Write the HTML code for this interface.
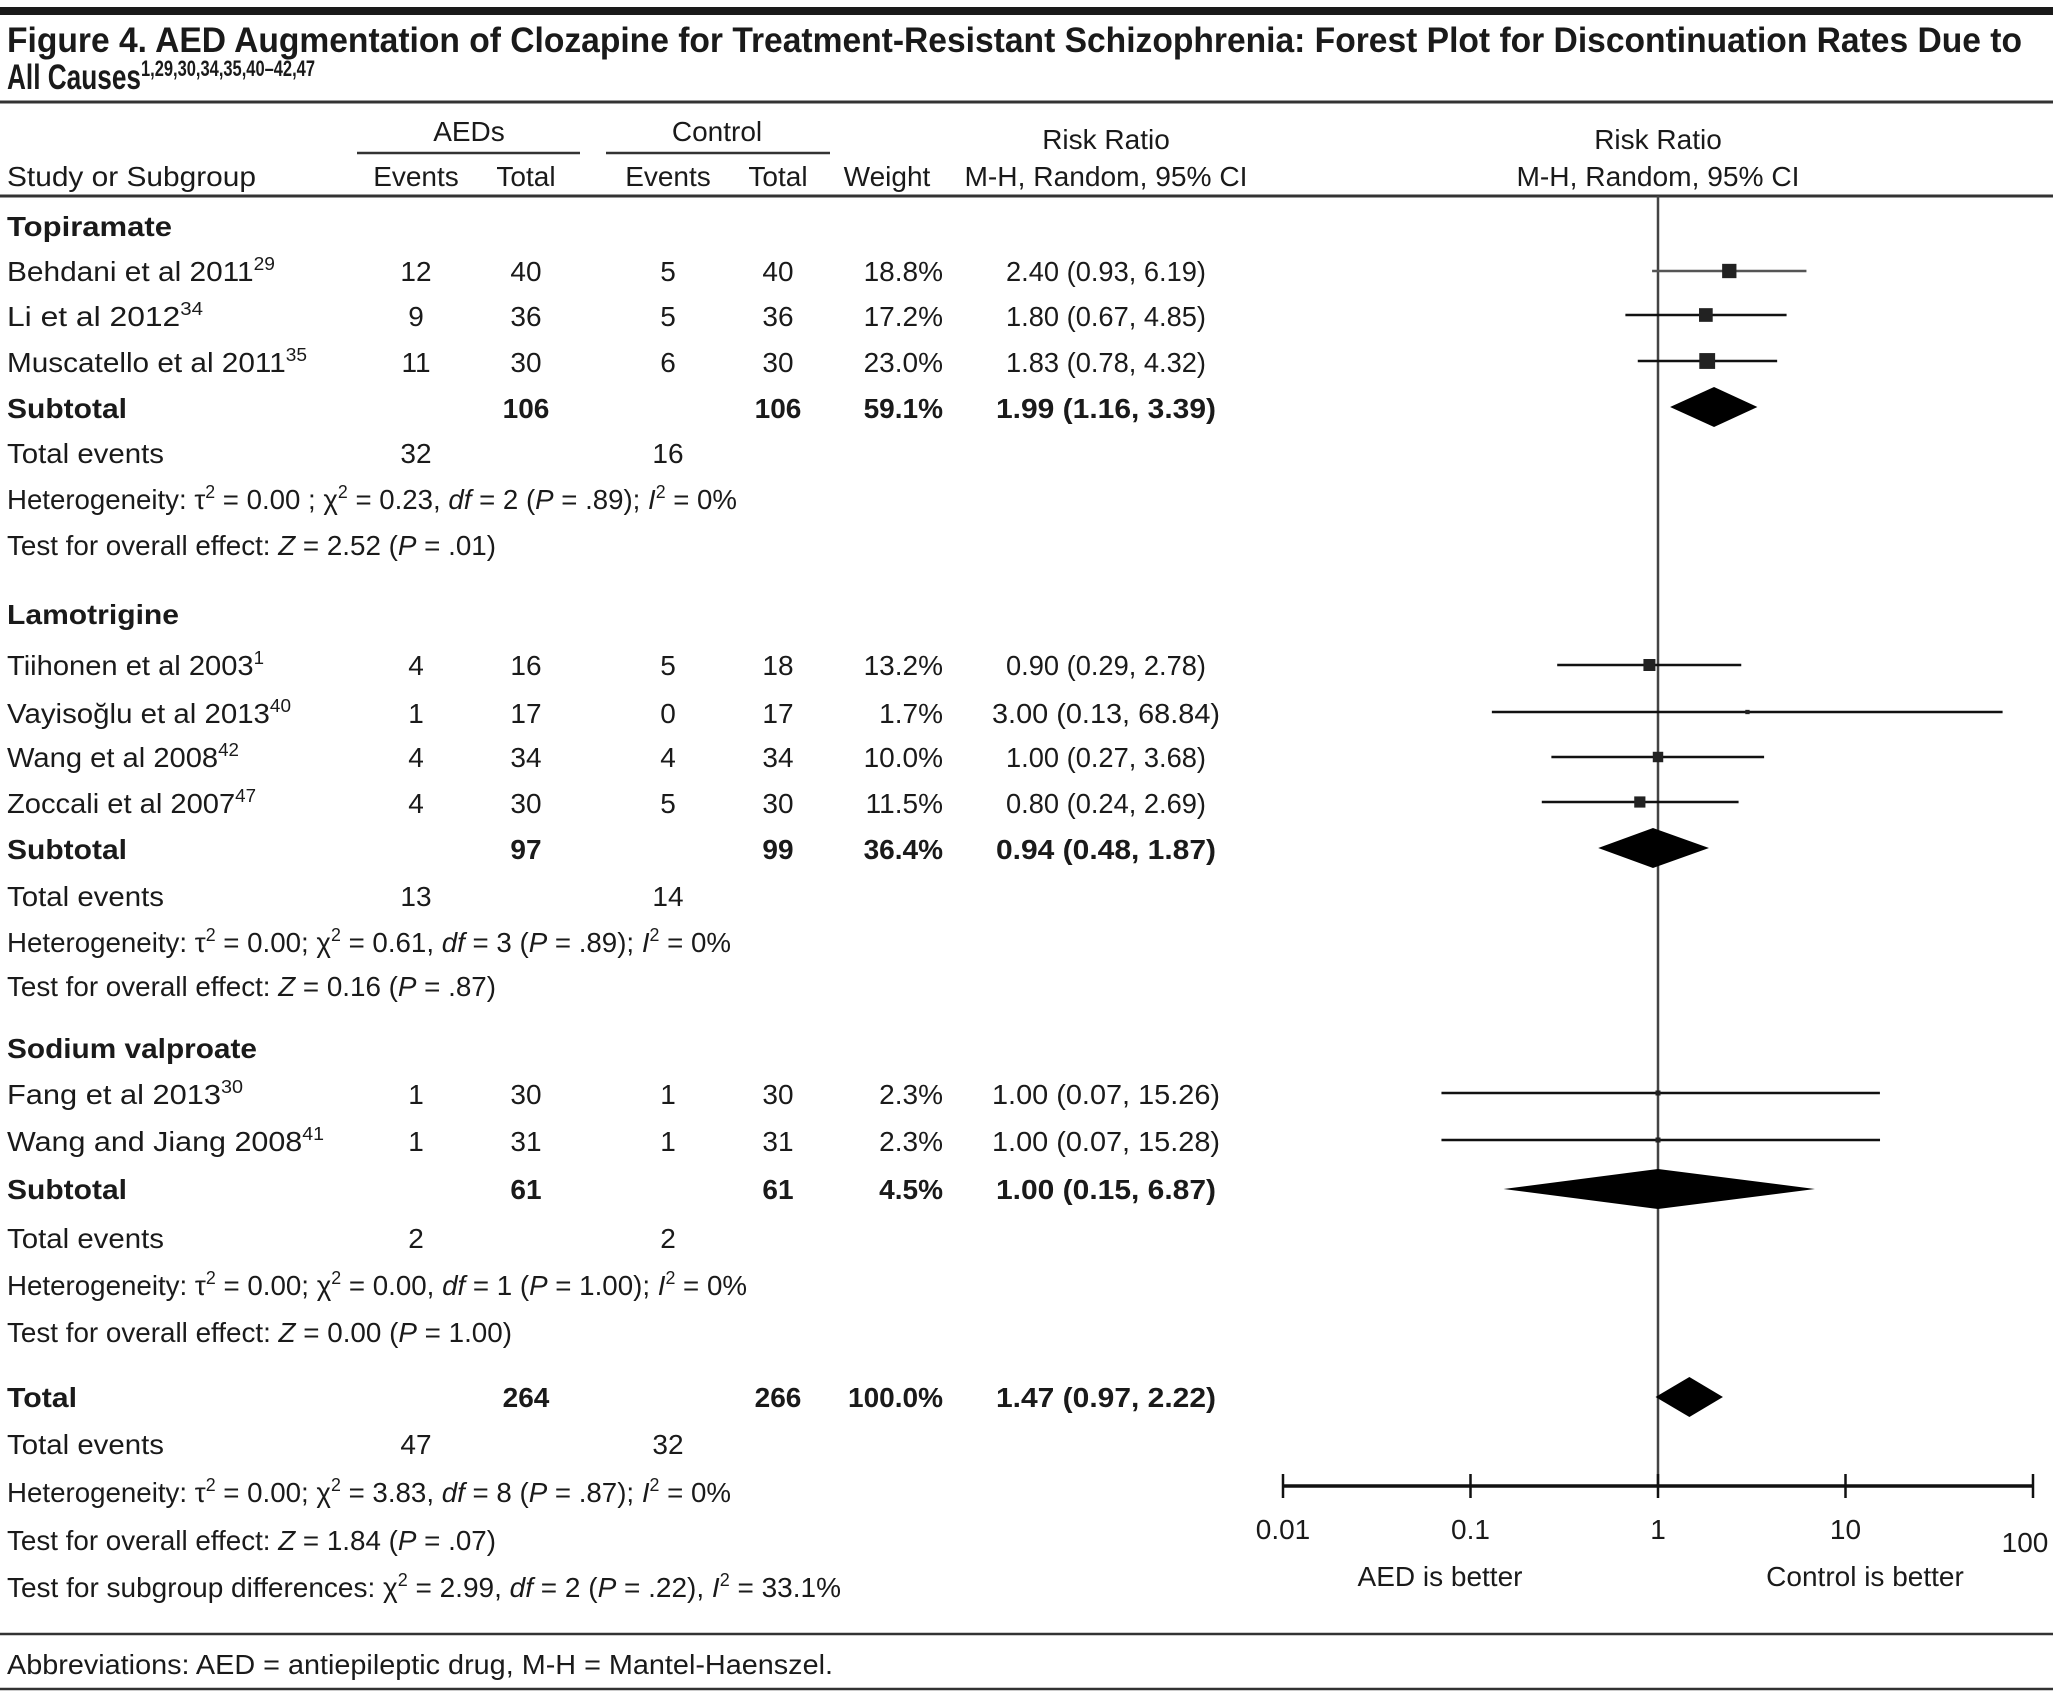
<!DOCTYPE html>
<html><head><meta charset="utf-8"><style>
html,body{margin:0;padding:0;background:#fff;}
svg{display:block;}
text{font-family:"Liberation Sans",sans-serif;fill:#1a1a1a;font-size:28px;}
.b{font-weight:bold;}
.m{text-anchor:middle;}
.r{text-anchor:end;}
</style></head><body>
<svg id="fig" width="2053" height="1697" viewBox="0 0 2053 1697" xmlns="http://www.w3.org/2000/svg">
<rect x="0" y="7" width="2053" height="8" fill="#1a1a1a"/>
<g>
<text x="7" y="52" class="b" style="font-size:35px" textLength="2015" lengthAdjust="spacingAndGlyphs">Figure 4. AED Augmentation of Clozapine for Treatment-Resistant Schizophrenia: Forest Plot for Discontinuation Rates Due to</text>
<text x="7" y="89" class="b" style="font-size:35px" textLength="308" lengthAdjust="spacingAndGlyphs">All Causes<tspan style="font-size:22px" dy="-13">1,29,30,34,35,40–42,47</tspan></text>
</g>
<line x1="0" y1="102" x2="2053" y2="102" stroke="#333" stroke-width="3"/>
<g>
<text x="469" y="141" class="m">AEDs</text>
<text x="717" y="141" class="m">Control</text>
<line x1="357" y1="153" x2="580" y2="153" stroke="#333" stroke-width="2.5"/>
<line x1="606" y1="153" x2="830" y2="153" stroke="#333" stroke-width="2.5"/>
<text x="1106" y="149" class="m">Risk Ratio</text>
<text x="1658" y="149" class="m">Risk Ratio</text>
<text x="7" y="186" textLength="249" lengthAdjust="spacingAndGlyphs">Study or Subgroup</text>
<text x="416" y="186" class="m">Events</text>
<text x="526" y="186" class="m">Total</text>
<text x="668" y="186" class="m">Events</text>
<text x="778" y="186" class="m">Total</text>
<text x="887" y="186" class="m">Weight</text>
<text x="1106" y="186" class="m" textLength="283" lengthAdjust="spacingAndGlyphs">M-H, Random, 95% CI</text>
<text x="1658" y="186" class="m" textLength="283" lengthAdjust="spacingAndGlyphs">M-H, Random, 95% CI</text>
</g>
<line x1="0" y1="196" x2="2053" y2="196" stroke="#333" stroke-width="3"/>

<g>
<text x="7" y="236" class="b" textLength="165" lengthAdjust="spacingAndGlyphs">Topiramate</text>
<text x="7" y="281" textLength="268" lengthAdjust="spacingAndGlyphs">Behdani et al 2011<tspan style="font-size:18px" dy="-11">29</tspan></text>
<text x="416" y="281" class="m">12</text><text x="526" y="281" class="m">40</text><text x="668" y="281" class="m">5</text><text x="778" y="281" class="m">40</text><text x="943" y="281" class="r">18.8%</text><text x="1106" y="281" class="m" textLength="200" lengthAdjust="spacingAndGlyphs">2.40 (0.93, 6.19)</text>
<text x="7" y="326" textLength="196" lengthAdjust="spacingAndGlyphs">Li et al 2012<tspan style="font-size:18px" dy="-11">34</tspan></text>
<text x="416" y="326" class="m">9</text><text x="526" y="326" class="m">36</text><text x="668" y="326" class="m">5</text><text x="778" y="326" class="m">36</text><text x="943" y="326" class="r">17.2%</text><text x="1106" y="326" class="m" textLength="200" lengthAdjust="spacingAndGlyphs">1.80 (0.67, 4.85)</text>
<text x="7" y="372" textLength="300" lengthAdjust="spacingAndGlyphs">Muscatello et al 2011<tspan style="font-size:18px" dy="-11">35</tspan></text>
<text x="416" y="372" class="m">11</text><text x="526" y="372" class="m">30</text><text x="668" y="372" class="m">6</text><text x="778" y="372" class="m">30</text><text x="943" y="372" class="r">23.0%</text><text x="1106" y="372" class="m" textLength="200" lengthAdjust="spacingAndGlyphs">1.83 (0.78, 4.32)</text>
<text x="7" y="418" class="b" textLength="120" lengthAdjust="spacingAndGlyphs">Subtotal</text>
<text x="526" y="418" class="m b">106</text><text x="778" y="418" class="m b">106</text><text x="943" y="418" class="r b">59.1%</text><text x="1106" y="418" class="m b" textLength="220" lengthAdjust="spacingAndGlyphs">1.99 (1.16, 3.39)</text>
<text x="7" y="463" textLength="157" lengthAdjust="spacingAndGlyphs">Total events</text><text x="416" y="463" class="m">32</text><text x="668" y="463" class="m">16</text>
<text x="7" y="509" textLength="730" lengthAdjust="spacingAndGlyphs">Heterogeneity: τ<tspan style="font-size:18px" dy="-11">2</tspan><tspan dy="11"> = 0.00 ; χ</tspan><tspan style="font-size:18px" dy="-11">2</tspan><tspan dy="11"> = 0.23, </tspan><tspan font-style="italic">df</tspan> = 2 (<tspan font-style="italic">P</tspan> = .89); <tspan font-style="italic">I</tspan><tspan style="font-size:18px" dy="-11">2</tspan><tspan dy="11"> = 0%</tspan></text>
<text x="7" y="555" textLength="489" lengthAdjust="spacingAndGlyphs">Test for overall effect: <tspan font-style="italic">Z</tspan> = 2.52 (<tspan font-style="italic">P</tspan> = .01)</text>

<text x="7" y="624" class="b" textLength="172" lengthAdjust="spacingAndGlyphs">Lamotrigine</text>
<text x="7" y="675" textLength="257" lengthAdjust="spacingAndGlyphs">Tiihonen et al 2003<tspan style="font-size:18px" dy="-11">1</tspan></text>
<text x="416" y="675" class="m">4</text><text x="526" y="675" class="m">16</text><text x="668" y="675" class="m">5</text><text x="778" y="675" class="m">18</text><text x="943" y="675" class="r">13.2%</text><text x="1106" y="675" class="m" textLength="200" lengthAdjust="spacingAndGlyphs">0.90 (0.29, 2.78)</text>
<text x="7" y="723" textLength="284" lengthAdjust="spacingAndGlyphs">Vayisoğlu et al 2013<tspan style="font-size:18px" dy="-11">40</tspan></text>
<text x="416" y="723" class="m">1</text><text x="526" y="723" class="m">17</text><text x="668" y="723" class="m">0</text><text x="778" y="723" class="m">17</text><text x="943" y="723" class="r">1.7%</text><text x="1106" y="723" class="m" textLength="228" lengthAdjust="spacingAndGlyphs">3.00 (0.13, 68.84)</text>
<text x="7" y="767" textLength="232" lengthAdjust="spacingAndGlyphs">Wang et al 2008<tspan style="font-size:18px" dy="-11">42</tspan></text>
<text x="416" y="767" class="m">4</text><text x="526" y="767" class="m">34</text><text x="668" y="767" class="m">4</text><text x="778" y="767" class="m">34</text><text x="943" y="767" class="r">10.0%</text><text x="1106" y="767" class="m" textLength="200" lengthAdjust="spacingAndGlyphs">1.00 (0.27, 3.68)</text>
<text x="7" y="813" textLength="249" lengthAdjust="spacingAndGlyphs">Zoccali et al 2007<tspan style="font-size:18px" dy="-11">47</tspan></text>
<text x="416" y="813" class="m">4</text><text x="526" y="813" class="m">30</text><text x="668" y="813" class="m">5</text><text x="778" y="813" class="m">30</text><text x="943" y="813" class="r">11.5%</text><text x="1106" y="813" class="m" textLength="200" lengthAdjust="spacingAndGlyphs">0.80 (0.24, 2.69)</text>
<text x="7" y="859" class="b" textLength="120" lengthAdjust="spacingAndGlyphs">Subtotal</text>
<text x="526" y="859" class="m b">97</text><text x="778" y="859" class="m b">99</text><text x="943" y="859" class="r b">36.4%</text><text x="1106" y="859" class="m b" textLength="220" lengthAdjust="spacingAndGlyphs">0.94 (0.48, 1.87)</text>
<text x="7" y="906" textLength="157" lengthAdjust="spacingAndGlyphs">Total events</text><text x="416" y="906" class="m">13</text><text x="668" y="906" class="m">14</text>
<text x="7" y="952" textLength="724" lengthAdjust="spacingAndGlyphs">Heterogeneity: τ<tspan style="font-size:18px" dy="-11">2</tspan><tspan dy="11"> = 0.00; χ</tspan><tspan style="font-size:18px" dy="-11">2</tspan><tspan dy="11"> = 0.61, </tspan><tspan font-style="italic">df</tspan> = 3 (<tspan font-style="italic">P</tspan> = .89); <tspan font-style="italic">I</tspan><tspan style="font-size:18px" dy="-11">2</tspan><tspan dy="11"> = 0%</tspan></text>
<text x="7" y="996" textLength="489" lengthAdjust="spacingAndGlyphs">Test for overall effect: <tspan font-style="italic">Z</tspan> = 0.16 (<tspan font-style="italic">P</tspan> = .87)</text>

<text x="7" y="1058" class="b" textLength="250" lengthAdjust="spacingAndGlyphs">Sodium valproate</text>
<text x="7" y="1104" textLength="236" lengthAdjust="spacingAndGlyphs">Fang et al 2013<tspan style="font-size:18px" dy="-11">30</tspan></text>
<text x="416" y="1104" class="m">1</text><text x="526" y="1104" class="m">30</text><text x="668" y="1104" class="m">1</text><text x="778" y="1104" class="m">30</text><text x="943" y="1104" class="r">2.3%</text><text x="1106" y="1104" class="m" textLength="228" lengthAdjust="spacingAndGlyphs">1.00 (0.07, 15.26)</text>
<text x="7" y="1151" textLength="317" lengthAdjust="spacingAndGlyphs">Wang and Jiang 2008<tspan style="font-size:18px" dy="-11">41</tspan></text>
<text x="416" y="1151" class="m">1</text><text x="526" y="1151" class="m">31</text><text x="668" y="1151" class="m">1</text><text x="778" y="1151" class="m">31</text><text x="943" y="1151" class="r">2.3%</text><text x="1106" y="1151" class="m" textLength="228" lengthAdjust="spacingAndGlyphs">1.00 (0.07, 15.28)</text>
<text x="7" y="1199" class="b" textLength="120" lengthAdjust="spacingAndGlyphs">Subtotal</text>
<text x="526" y="1199" class="m b">61</text><text x="778" y="1199" class="m b">61</text><text x="943" y="1199" class="r b">4.5%</text><text x="1106" y="1199" class="m b" textLength="220" lengthAdjust="spacingAndGlyphs">1.00 (0.15, 6.87)</text>
<text x="7" y="1248" textLength="157" lengthAdjust="spacingAndGlyphs">Total events</text><text x="416" y="1248" class="m">2</text><text x="668" y="1248" class="m">2</text>
<text x="7" y="1295" textLength="740" lengthAdjust="spacingAndGlyphs">Heterogeneity: τ<tspan style="font-size:18px" dy="-11">2</tspan><tspan dy="11"> = 0.00; χ</tspan><tspan style="font-size:18px" dy="-11">2</tspan><tspan dy="11"> = 0.00, </tspan><tspan font-style="italic">df</tspan> = 1 (<tspan font-style="italic">P</tspan> = 1.00); <tspan font-style="italic">I</tspan><tspan style="font-size:18px" dy="-11">2</tspan><tspan dy="11"> = 0%</tspan></text>
<text x="7" y="1342" textLength="505" lengthAdjust="spacingAndGlyphs">Test for overall effect: <tspan font-style="italic">Z</tspan> = 0.00 (<tspan font-style="italic">P</tspan> = 1.00)</text>

<text x="7" y="1407" class="b" textLength="70" lengthAdjust="spacingAndGlyphs">Total</text>
<text x="526" y="1407" class="m b">264</text><text x="778" y="1407" class="m b">266</text><text x="943" y="1407" class="r b">100.0%</text><text x="1106" y="1407" class="m b" textLength="220" lengthAdjust="spacingAndGlyphs">1.47 (0.97, 2.22)</text>
<text x="7" y="1454" textLength="157" lengthAdjust="spacingAndGlyphs">Total events</text><text x="416" y="1454" class="m">47</text><text x="668" y="1454" class="m">32</text>
<text x="7" y="1502" textLength="724" lengthAdjust="spacingAndGlyphs">Heterogeneity: τ<tspan style="font-size:18px" dy="-11">2</tspan><tspan dy="11"> = 0.00; χ</tspan><tspan style="font-size:18px" dy="-11">2</tspan><tspan dy="11"> = 3.83, </tspan><tspan font-style="italic">df</tspan> = 8 (<tspan font-style="italic">P</tspan> = .87); <tspan font-style="italic">I</tspan><tspan style="font-size:18px" dy="-11">2</tspan><tspan dy="11"> = 0%</tspan></text>
<text x="7" y="1550" textLength="489" lengthAdjust="spacingAndGlyphs">Test for overall effect: <tspan font-style="italic">Z</tspan> = 1.84 (<tspan font-style="italic">P</tspan> = .07)</text>
<text x="7" y="1597" textLength="834" lengthAdjust="spacingAndGlyphs">Test for subgroup differences: χ<tspan style="font-size:18px" dy="-11">2</tspan><tspan dy="11"> = 2.99, </tspan><tspan font-style="italic">df</tspan> = 2 (<tspan font-style="italic">P</tspan> = .22), <tspan font-style="italic">I</tspan><tspan style="font-size:18px" dy="-11">2</tspan><tspan dy="11"> = 33.1%</tspan></text>
</g>

<line x1="0" y1="1634" x2="2053" y2="1634" stroke="#333" stroke-width="2.5"/>
<text x="7" y="1674" textLength="826" lengthAdjust="spacingAndGlyphs">Abbreviations: AED = antiepileptic drug, M-H = Mantel-Haenszel.</text>
<line x1="0" y1="1689" x2="2053" y2="1689" stroke="#333" stroke-width="2.5"/>

<g id="plot"></g>
</svg>
<script>
// data
const studyNames = ["Behdani 2011","Li 2012","Muscatello 2011","Tiihonen 2003","Vayisoglu 2013","Wang 2008","Zoccali 2007","Fang 2013","Wang and Jiang 2008"];
const studyRR = [2.40,1.80,1.83,0.90,3.00,1.00,0.80,1.00,1.00];
const studyLo = [0.93,0.67,0.78,0.29,0.13,0.27,0.24,0.07,0.07];
const studyHi = [6.19,4.85,4.32,2.78,68.84,3.68,2.69,15.26,15.28];
const studyWeight = [18.8,17.2,23.0,13.2,1.7,10.0,11.5,2.3,2.3];
const studyRowY = [271,315,361,665,712,757,802,1093,1140];
const pooledNames = ["Topiramate subtotal","Lamotrigine subtotal","Sodium valproate subtotal","Total"];
const pooledRR = [1.99,0.94,1.00,1.47];
const pooledLo = [1.16,0.48,0.15,0.97];
const pooledHi = [3.39,1.87,6.87,2.22];
const pooledRowY = [407,848,1189,1397];
const tickValues = [0.01,0.1,1,10,100];
const tickLabels = ["0.01","0.1","1","10","100"];

const NS="http://www.w3.org/2000/svg";
const g=document.getElementById('plot');
const X0=1658, DEC=187.5, AXY=1486, TOPY=196;
function xs(v){return X0+DEC*Math.log10(v);}
function mk(tag,attrs){const e=document.createElementNS(NS,tag);for(const k in attrs)e.setAttribute(k,attrs[k]);g.appendChild(e);return e;}

let e=mk('line',{x1:xs(1),x2:xs(1),y1:TOPY,y2:AXY,stroke:'#444','stroke-width':2.5});


e=mk('line',{x1:xs(tickValues[0]),x2:xs(tickValues[tickValues.length-1]),y1:AXY,y2:AXY,stroke:'#111','stroke-width':3.5});


tickValues.forEach((v,i)=>{
  let t=mk('line',{x1:xs(v),x2:xs(v),y1:AXY-12,y2:AXY+12,stroke:'#111','stroke-width':2.5});
  
  
  const last=(i===tickValues.length-1);
  let l=mk('text',{x:last?xs(v)-8:xs(v),y:(last?1552:1539),'text-anchor':'middle'});
  l.textContent=tickLabels[i];
  
  
});
e=mk('text',{x:1440,y:1586,'text-anchor':'middle'});e.textContent='AED is better';


e=mk('text',{x:1865,y:1586,'text-anchor':'middle'});e.textContent='Control is better';



studyRR.forEach((rr,i)=>{
  const y=studyRowY[i];
  let c=mk('line',{x1:xs(studyLo[i]),x2:xs(studyHi[i]),y1:y,y2:y,stroke:i===0?'#555':'#111','stroke-width':2.5});
  
  
  const s=3.3*Math.sqrt(studyWeight[i]);
  let r=mk('rect',{x:xs(rr)-s/2,y:y-s/2,width:s,height:s,fill:'#222'});
  
  
});
pooledRR.forEach((rr,i)=>{
  const y=pooledRowY[i],h=20;
  let d=mk('polygon',{points:`${xs(pooledLo[i])},${y} ${xs(rr)},${y-h} ${xs(pooledHi[i])},${y} ${xs(rr)},${y+h}`,fill:'#000'});
  
  
});
</script>
</body></html>
